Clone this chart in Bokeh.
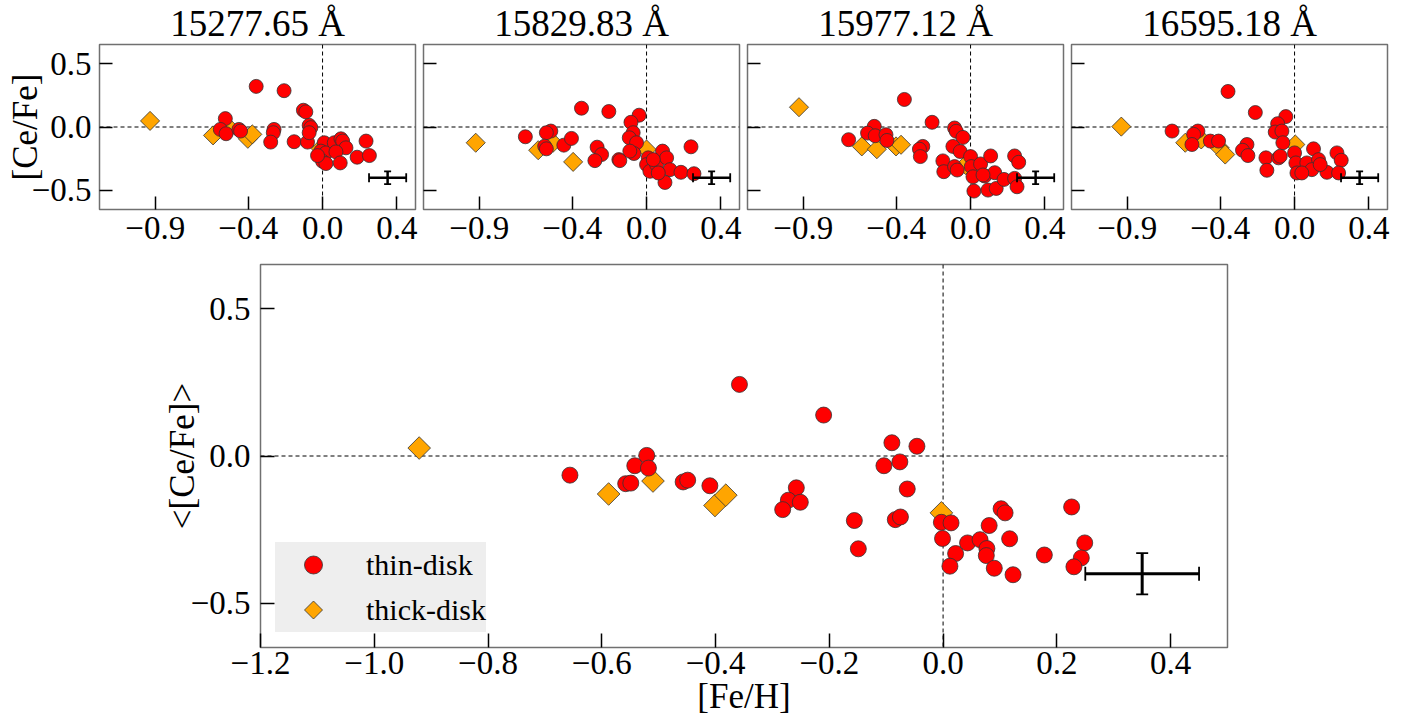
import numpy as np
from bokeh.plotting import figure
from bokeh.models import (Range1d, FixedTicker, CustomJSTickFormatter, Span, Whisker,
                          TeeHead, ColumnDataSource, Legend, LegendItem)
from bokeh.layouts import column, row
from bokeh.embed import file_html
from bokeh.resources import INLINE

FONT = "Liberation Serif"
RED = "#ff0000"
ORANGE = "#ffa500"
EDGE = "#333333"

# ---------------- main panel: mean [Ce/Fe] vs [Fe/H] ----------------
thin_feh = [-0.656, -0.558, -0.549, -0.542, -0.521, -0.518, -0.457, -0.449, -0.410, -0.358,
            -0.210, -0.090, -0.046, -0.104, -0.076, -0.063, -0.258, -0.272, -0.251, -0.282,
            -0.156, -0.149, -0.084, -0.075, -0.003, 0.014, -0.001, 0.022, 0.012, 0.043,
            0.065, 0.077, 0.076, 0.090, 0.081, 0.102, 0.109, 0.117, 0.123, 0.178,
            0.226, 0.249, 0.243, 0.230]
thin_cefe = [-0.065, -0.094, -0.092, -0.033, 0.002, -0.041, -0.088, -0.082, -0.101, 0.243,
             0.139, 0.045, 0.033, -0.033, -0.020, -0.112, -0.108, -0.150, -0.157, -0.182,
             -0.219, -0.315, -0.216, -0.207, -0.225, -0.227, -0.280, -0.331, -0.374, -0.295,
             -0.284, -0.314, -0.338, -0.381, -0.236, -0.179, -0.193, -0.281, -0.403, -0.336,
             -0.173, -0.295, -0.346, -0.376]
thick_feh = [-0.921, -0.588, -0.510, -0.401, -0.382, -0.003]
thick_cefe = [0.027, -0.129, -0.085, -0.168, -0.133, -0.193]

# ---------------- individual Ce II lines ----------------
line_titles = ["15277.65 Å", "15829.83 Å", "15977.12 Å", "16595.18 Å"]

l1_thin_feh = [-0.357, -0.207, -0.103, -0.090, -0.523, -0.550, -0.519, -0.450, -0.441, -0.261,
               -0.265, -0.279, -0.153, -0.081, -0.072, -0.063, -0.072, 0.009, -0.009, 0.018,
               0.000, 0.018, 0.063, 0.099, 0.108, 0.126, 0.072, 0.095, 0.186, 0.234,
               0.252, -0.027]
l1_thin_cefe = [0.320, 0.286, 0.132, 0.119, 0.066, -0.019, -0.053, -0.019, -0.032, -0.019,
                -0.045, -0.119, -0.116, -0.119, 0.013, -0.005, -0.045, -0.124, -0.190, -0.204,
                -0.270, -0.288, -0.124, -0.093, -0.111, -0.164, -0.196, -0.283, -0.238, -0.111,
                -0.225, -0.225]
l1_thick_feh = [-0.928, -0.589, -0.500, -0.402, -0.378, -0.010]
l1_thick_cefe = [0.048, -0.066, -0.010, -0.093, -0.058, -0.170]

l2_thin_feh = [-0.350, -0.203, -0.040, -0.084, -0.072, -0.093, -0.054, -0.068, -0.090, -0.652,
               -0.515, -0.539, -0.548, -0.539, -0.445, -0.404, -0.266, -0.242, -0.278, -0.149,
               -0.144, 0.009, 0.000, 0.018, 0.054, 0.086, 0.108, 0.126, 0.099, 0.063,
               0.185, 0.239, 0.255, 0.036]
l2_thin_cefe = [0.148, 0.122, 0.093, 0.037, -0.045, -0.085, -0.124, -0.209, -0.190, -0.077,
                -0.032, -0.045, -0.151, -0.172, -0.143, -0.090, -0.159, -0.217, -0.265, -0.257,
                -0.265, -0.243, -0.296, -0.349, -0.296, -0.190, -0.243, -0.336, -0.437, -0.362,
                -0.357, -0.156, -0.368, -0.257]
l2_thick_feh = [-0.919, -0.583, -0.503, -0.395, 0.000]
l2_thick_cefe = [-0.124, -0.183, -0.124, -0.275, -0.177]

l3_thin_feh = [-0.356, -0.207, -0.086, -0.077, -0.041, -0.656, -0.518, -0.554, -0.513, -0.455,
               -0.450, -0.257, -0.275, -0.270, -0.149, -0.144, -0.095, -0.056, -0.086, -0.072,
               0.000, 0.004, 0.013, 0.018, 0.054, 0.076, 0.108, 0.130, 0.094, 0.138,
               0.180, 0.237, 0.259, 0.237, 0.250, 0.067]
l3_thin_cefe = [0.217, 0.037, -0.008, -0.034, -0.082, -0.100, 0.005, -0.048, -0.069, -0.061,
                -0.106, -0.153, -0.175, -0.233, -0.267, -0.352, -0.153, -0.193, -0.312, -0.339,
                -0.233, -0.312, -0.392, -0.505, -0.291, -0.386, -0.228, -0.360, -0.497, -0.484,
                -0.413, -0.228, -0.278, -0.405, -0.471, -0.378]
l3_thick_feh = [-0.923, -0.585, -0.504, -0.401, -0.374, -0.027]
l3_thick_cefe = [0.156, -0.153, -0.175, -0.153, -0.140, -0.299]

l4_thin_feh = [-0.358, -0.211, -0.047, -0.091, -0.104, -0.068, -0.063, -0.659, -0.520, -0.543,
               -0.552, -0.453, -0.409, -0.256, -0.280, -0.251, -0.154, -0.149, -0.086, -0.077,
               0.000, 0.007, 0.013, 0.066, 0.102, 0.129, 0.093, 0.039, 0.174, 0.228,
               0.251, 0.237, 0.138]
l4_thin_cefe = [0.280, 0.114, 0.082, 0.026, -0.040, -0.032, -0.124, -0.032, -0.032, -0.058,
                -0.138, -0.111, -0.111, -0.138, -0.183, -0.225, -0.243, -0.341, -0.243, -0.230,
                -0.204, -0.283, -0.362, -0.283, -0.172, -0.257, -0.336, -0.362, -0.357, -0.204,
                -0.262, -0.362, -0.296]
l4_thick_feh = [-0.932, -0.588, -0.502, -0.403, -0.373, 0.004]
l4_thick_cefe = [0.003, -0.124, -0.098, -0.164, -0.217, -0.138]

small_xticks = [-0.9, -0.4, 0.0, 0.4]
main_xticks = [-1.2, -1.0, -0.8, -0.6, -0.4, -0.2, 0.0, 0.2, 0.4]
yticks = [-0.5, 0.0, 0.5]
x_limits = (-1.2, 0.5)
y_limits = (-0.65, 0.65)

err_x0, err_y0 = 0.35, -0.40
err_x = 0.10
err_y_main = 0.07
err_y_line = 0.05

FMT = "return tick.toFixed(1).replace('-', '\\u2212');"
TICK_FS = "33px"
LABEL_FS = "35px"


def style(p, xticks, tick_len, ylabels=True):
    p.xaxis.ticker = FixedTicker(ticks=xticks)
    p.yaxis.ticker = FixedTicker(ticks=yticks)
    p.xaxis.formatter = CustomJSTickFormatter(code=FMT)
    p.yaxis.formatter = CustomJSTickFormatter(code=FMT if ylabels else "return '';")
    for ax in (p.xaxis[0], p.yaxis[0]):
        ax.axis_line_color = None
        ax.major_tick_in = tick_len
        ax.major_tick_out = 0
        ax.minor_tick_line_color = None
        ax.major_tick_line_color = "black"
        ax.major_tick_line_width = 1.5
        ax.major_label_text_font = FONT
        ax.major_label_text_font_size = TICK_FS
        ax.major_label_text_color = "black"
        ax.axis_label_text_font = FONT
        ax.axis_label_text_font_size = LABEL_FS
        ax.axis_label_text_font_style = "normal"
        ax.axis_label_text_color = "black"
    if not ylabels:
        p.yaxis[0].major_label_text_font_size = "0px"
        p.yaxis[0].major_label_standoff = 0
    p.xgrid.grid_line_color = None
    p.ygrid.grid_line_color = None
    p.outline_line_color = "#707070"
    p.outline_line_width = 1.5
    p.outline_line_alpha = 1.0
    p.background_fill_color = "white"
    p.border_fill_color = "white"
    for dim in ("width", "height"):
        p.add_layout(Span(location=0, dimension=dim, line_color="black", line_width=1,
                          line_dash="4 3", level="underlay"))


def errbar(p, yerr, lw, cap):
    src = ColumnDataSource(dict(x=[err_x0], y=[err_y0],
                                xl=[err_x0 - err_x], xu=[err_x0 + err_x],
                                yl=[err_y0 - yerr], yu=[err_y0 + yerr]))
    p.add_layout(Whisker(source=src, base="y", lower="xl", upper="xu", dimension="width",
                         line_color="black", line_width=lw, level="overlay",
                         lower_head=TeeHead(size=cap, line_width=1.8, line_color="black"),
                         upper_head=TeeHead(size=cap, line_width=1.8, line_color="black")))
    p.add_layout(Whisker(source=src, base="x", lower="yl", upper="yu", dimension="height",
                         line_color="black", line_width=lw, level="overlay",
                         lower_head=TeeHead(size=cap - 2, line_width=1.8, line_color="black"),
                         upper_head=TeeHead(size=cap - 2, line_width=1.8, line_color="black")))


panels = [
    (l1_thin_feh, l1_thin_cefe, l1_thick_feh, l1_thick_cefe),
    (l2_thin_feh, l2_thin_cefe, l2_thick_feh, l2_thick_cefe),
    (l3_thin_feh, l3_thin_cefe, l3_thick_feh, l3_thick_cefe),
    (l4_thin_feh, l4_thin_cefe, l4_thick_feh, l4_thick_cefe),
]

small = []
for i, (tx, ty, kx, ky) in enumerate(panels):
    first = i == 0
    last = i == 3
    p = figure(frame_width=316, frame_height=165, output_backend="svg", toolbar_location=None,
               x_range=Range1d(*x_limits), y_range=Range1d(*y_limits),
               min_border_left=99 if first else 4, min_border_right=29 if last else 4,
               min_border_top=42, min_border_bottom=45)
    p.title.text = line_titles[i]
    p.title.align = "center"
    p.title.text_font = FONT
    p.title.text_font_size = "37px"
    p.title.text_font_style = "normal"
    p.title.text_color = "black"
    p.title.standoff = 1
    style(p, small_xticks, 13, ylabels=first)
    p.xaxis.major_label_standoff = 7
    if first:
        p.yaxis.axis_label = "[Ce/Fe]"
        p.yaxis.major_label_standoff = 8
        p.yaxis.axis_label_standoff = -16
    p.scatter(kx, ky, marker="square", angle=np.pi / 4, size=13.5, fill_color=ORANGE,
              line_color=EDGE, line_width=0.8)
    p.scatter(tx, ty, marker="circle", size=14, fill_color=RED,
              line_color=EDGE, line_width=0.8)
    errbar(p, err_y_line, 2.5, 9)
    small.append(p)

pm = figure(frame_width=967, frame_height=383, output_backend="svg", toolbar_location=None,
            x_range=Range1d(*x_limits), y_range=Range1d(*y_limits),
            min_border_left=260, min_border_right=20, min_border_top=10, min_border_bottom=70)
style(pm, main_xticks, 14, ylabels=True)
pm.xaxis.axis_label = "[Fe/H]"
pm.yaxis.axis_label = "<[Ce/Fe]>"
pm.xaxis.major_label_standoff = 4
pm.xaxis.axis_label_standoff = 0
pm.yaxis.major_label_standoff = 10
pm.yaxis.axis_label_standoff = -14
pm.scatter(thick_feh, thick_cefe, marker="square", angle=np.pi / 4, size=16,
           fill_color=ORANGE, line_color=EDGE, line_width=0.8)
r_thin = pm.scatter(thin_feh, thin_cefe, marker="circle", size=16, fill_color=RED,
                    line_color=EDGE, line_width=0.8)
# legend key for the thick disk: a glyph with no drawable point (NaN), used only by the legend
try:
    r_thick_key = pm.ngon(x=[np.nan], y=[np.nan], radius=12, radius_units="screen", n=4,
                          fill_color=ORANGE, line_color=EDGE, line_width=0.8)
except Exception:
    r_thick_key = pm.scatter(x=[np.nan], y=[np.nan], marker="diamond", size=16,
                             fill_color=ORANGE, line_color=EDGE, line_width=0.8)
errbar(pm, err_y_main, 3, 14)

legend = Legend(items=[LegendItem(label="thin-disk", renderers=[r_thin]),
                       LegendItem(label="thick-disk", renderers=[r_thick_key])],
                location=(15, 15), glyph_width=76, glyph_height=45, label_height=45,
                label_standoff=15, padding=5, spacing=0, margin=0,
                label_text_font=FONT, label_text_font_size="30px", label_text_color="black",
                background_fill_color="#eeeeee", background_fill_alpha=1.0,
                border_line_color=None)
pm.add_layout(legend)

layout = column(row(*small), pm)
open("out.html", "w").write(file_html(layout, INLINE, title="Ce abundances"))
